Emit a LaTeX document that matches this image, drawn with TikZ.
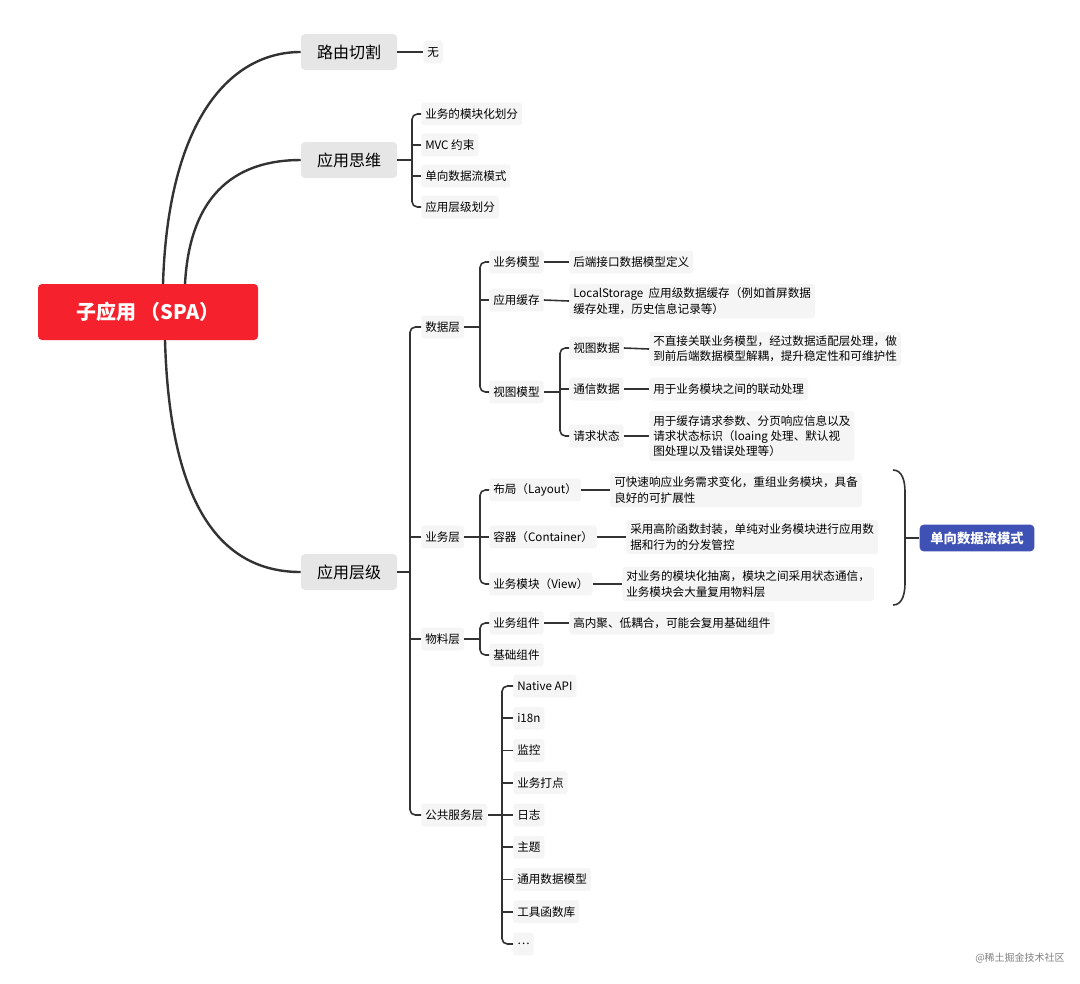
\documentclass[tikz,border=0pt]{standalone}
\usepackage{fontspec}
\setmainfont{Noto Sans CJK SC}
\usepackage{tikz}
\usetikzlibrary{positioning}
\definecolor{rootred}{HTML}{F5222D}
\definecolor{topicgray}{HTML}{E6E6E6}
\definecolor{leafgray}{HTML}{F5F5F5}
\definecolor{linegray}{HTML}{333333}
\definecolor{flowblue}{HTML}{3F51B5}
\tikzset{
  root/.style={fill=rootred, text=white, rounded corners=3pt, minimum width=165pt, minimum height=42pt, font=\fontsize{15}{18}\selectfont\bfseries},
  topic/.style={fill=topicgray, rounded corners=3pt, minimum width=72pt, minimum height=27pt, font=\fontsize{12}{14}\selectfont},
  leaf/.style={fill=leafgray, rounded corners=2pt, anchor=west, inner sep=3pt, minimum height=17pt, align=left, font=\fontsize{8.7}{11.5}\selectfont},
  flow/.style={fill=flowblue, text=white, rounded corners=3pt, minimum width=86pt, minimum height=20pt, font=\fontsize{10}{12}\selectfont\bfseries},
  main/.style={draw=linegray, line width=1.8pt},
  br/.style={draw=linegray, line width=1.2pt, rounded corners=4pt},
}
\begin{document}
\begin{tikzpicture}[x=0.75pt,y=-0.75pt]
  \useasboundingbox (0,0) rectangle (1080,983);

  % root and first level
  \node[root] (spa) at (148,312) {子应用 （SPA）};
  \node[topic] (route) at (349,52) {路由切割};
  \node[topic] (think) at (349,160) {应用思维};
  \node[topic] (level) at (349,572) {应用层级};

  \draw[main] (163,284) .. controls (168,120) and (230,52) .. (route.west);
  \draw[main] (185,284) .. controls (190,190) and (240,160) .. (think.west);
  \draw[main] (165,340) .. controls (170,520) and (230,572) .. (level.west);

  % 路由切割
  \node[leaf] (none) at (423,52) {无};
  \draw[br] (route.east) -- (none.west);

  % 应用思维
  \node[leaf] (t1) at (421,114) {业务的模块化划分};
  \node[leaf] (t2) at (421,145) {MVC 约束};
  \node[leaf] (t3) at (421,176) {单向数据流模式};
  \node[leaf] (t4) at (421,207) {应用层级划分};
  \draw[br] (t1.west) -| (412,160) |- (t4.west);
  \draw[br] (think.east) -- (412,160);
  \draw[br] (412,145) -- (t2.west);
  \draw[br] (412,176) -- (t3.west);

  % 应用层级
  \node[leaf] (data) at (421,327) {数据层};
  \node[leaf] (biz) at (421,537) {业务层};
  \node[leaf] (mat) at (421,639) {物料层};
  \node[leaf] (pub) at (421,815) {公共服务层};
  \draw[br] (data.west) -| (410,572) |- (pub.west);
  \draw[br] (level.east) -- (410,572);
  \draw[br] (410,537) -- (biz.west);
  \draw[br] (410,639) -- (mat.west);

  % 数据层
  \node[leaf] (model) at (489,262) {业务模型};
  \node[leaf] (cache) at (489,300) {应用缓存};
  \node[leaf] (view) at (489,392) {视图模型};
  \draw[br] (model.west) -| (480,327) |- (view.west);
  \draw[br] (data.east) -- (480,327);
  \draw[br] (480,300) -- (cache.west);

  \node[leaf] (modeltxt) at (569,262) {后端接口数据模型定义};
  \draw[br] (model.east) -- (modeltxt.west);
  \node[leaf] (cachetxt) at (569,301) {LocalStorage\ \ 应用级数据缓存（例如首屏数据\\缓存处理，历史信息记录等）};
  \draw[br] (cache.east) -- (cachetxt.west);

  % 视图模型
  \node[leaf] (vdata) at (569,348) {视图数据};
  \node[leaf] (comm) at (569,389) {通信数据};
  \node[leaf] (req) at (569,436) {请求状态};
  \draw[br] (vdata.west) -| (560,392) |- (req.west);
  \draw[br] (view.east) -- (560,392);
  \draw[br] (560,389) -- (comm.west);

  \node[leaf] (vdatatxt) at (649,349) {不直接关联业务模型，经过数据适配层处理，做\\到前后端数据模型解耦，提升稳定性和可维护性};
  \draw[br] (vdata.east) -- (vdatatxt.west);
  \node[leaf] (commtxt) at (649,389) {用于业务模块之间的联动处理};
  \draw[br] (comm.east) -- (commtxt.west);
  \node[leaf] (reqtxt) at (649,436) {用于缓存请求参数、分页响应信息以及\\请求状态标识（loaing 处理、默认视\\图处理以及错误处理等）};
  \draw[br] (req.east) -- (reqtxt.west);

  % 业务层
  \node[leaf] (layout) at (489,490) {布局（Layout）};
  \node[leaf] (cont) at (489,537) {容器（Container）};
  \node[leaf] (bview) at (489,584) {业务模块（View）};
  \draw[br] (layout.west) -| (480,537) |- (bview.west);
  \draw[br] (biz.east) -- (cont.west);

  \node[leaf] (layouttxt) at (610,490) {可快速响应业务需求变化，重组业务模块，具备\\良好的可扩展性};
  \draw[br] (layout.east) -- (layouttxt.west);
  \node[leaf] (conttxt) at (626,537) {采用高阶函数封装，单纯对业务模块进行应用数\\据和行为的分发管控};
  \draw[br] (cont.east) -- (conttxt.west);
  \node[leaf] (bviewtxt) at (622,584) {对业务的模块化抽离，模块之间采用状态通信，\\业务模块会大量复用物料层};
  \draw[br] (bview.east) -- (bviewtxt.west);

  \node[flow] (oneway) at (977,538) {单向数据流模式};
  \draw[draw=linegray, line width=1.2pt] (893,470) to[out=0,in=90] (905,492) -- (905,583) to[out=-90,in=0] (893,605);
  \draw[draw=linegray, line width=1.2pt] (905,538) -- (oneway.west);

  % 物料层
  \node[leaf] (bcomp) at (489,623) {业务组件};
  \node[leaf] (base) at (489,655) {基础组件};
  \draw[br] (bcomp.west) -| (480,639) |- (base.west);
  \draw[br] (mat.east) -- (480,639);
  \node[leaf] (bcomptxt) at (569,623) {高内聚、低耦合，可能会复用基础组件};
  \draw[br] (bcomp.east) -- (bcomptxt.west);

  % 公共服务层
  \foreach \t [count=\i] in {Native API, i18n, 监控, 业务打点, 日志, 主题, 通用数据模型, 工具函数库, \ldots}
    \node[leaf] (p\i) at (513,{686+32.25*(\i-1)}) {\t};
  \draw[br] (p1.west) -| (502,815) |- (p9.west);
  \draw[br] (pub.east) -- (502,815);
  \foreach \i in {2,...,8} \draw[br] (502,{686+32.25*(\i-1)}) -- (p\i.west);

  \node[text=gray, font=\fontsize{7.5}{9}\selectfont] (mark) at (1020,958) {@稀土掘金技术社区};
\end{tikzpicture}
\end{document}
